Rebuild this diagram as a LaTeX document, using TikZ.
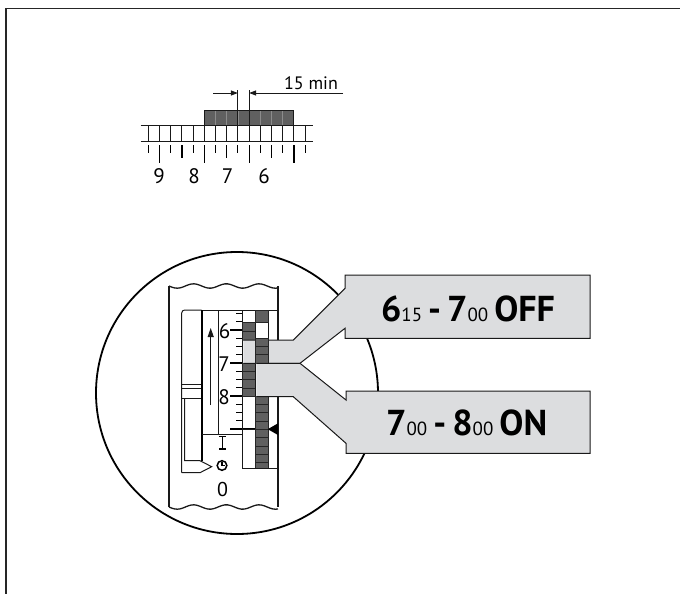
\documentclass[tikz,border=0pt]{standalone}
\usepackage{fontspec}
\setmainfont{PT Sans}
\usetikzlibrary{arrows.meta}
\definecolor{bandgray}{RGB}{220,221,223}
\definecolor{darkseg}{RGB}{96,96,96}
\newcommand\smalldig[1]{{\mdseries\fontsize{19}{21}\selectfont #1}}
\begin{document}
\begin{tikzpicture}[x=1pt,y=-1pt,line join=miter,
  thin line/.style={line width=1.0pt,draw=black!90},
  body line/.style={line width=1.3pt,draw=black!90},
  segment/.style={fill=darkseg,draw=black!85,line width=0.8pt},
  callout/.style={fill=bandgray},
  callout edge/.style={line width=1.0pt,draw=black!90},
  arrowtip/.style={-{Triangle[length=7pt,width=5pt]}},
  scalefont/.style={font=\fontsize{21}{24}\selectfont,inner sep=0pt},
  dialfont/.style={font=\fontsize{21}{24}\selectfont,inner sep=0pt},
  bigfont/.style={font=\bfseries\fontsize{36}{40}\selectfont,inner sep=0pt}]
\useasboundingbox (0,0) rectangle (680,594);
% frame
\draw[line width=1.4pt,draw=black!85] (6,594) -- (6,8.5) -- (680,8.5);

% ---------- top scale ----------
\fill[darkseg] (204.3,110) rectangle (293.9,125);
\foreach \i in {6,...,12}{
  \pgfmathsetmacro\xx{148.3+11.2*\i}
  \draw[line width=0.8pt,draw=black!45] (\xx,110) -- (\xx,125);
}
\draw[thin line] (204.3,125) -- (204.3,110) -- (293.9,110) -- (293.9,125);
\draw[thin line] (140.7,125) -- (312.7,125);
\draw[thin line] (140.7,141) -- (312.7,141);
\foreach \i in {0,...,14}{
  \pgfmathsetmacro\xx{148.3+11.2*\i}
  \draw[thin line] (\xx,125) -- (\xx,141);
  \pgfmathtruncatemacro\m{mod(\i,4)}
  \ifnum\m=1 \draw[line width=1.2pt] (\xx,145) -- (\xx,163);
  \else\ifnum\m=3 \draw[line width=1.2pt] (\xx,145) -- (\xx,158);
  \else \draw[line width=1.0pt] (\xx,145) -- (\xx,153);
  \fi\fi
}
\coordinate (ml) at (237.9,90);
\coordinate (mr) at (249.1,90);
\draw[thin line] (ml) -- (237.9,125);
\draw[thin line] (mr) -- (249.1,125);
\coordinate (al) at (213,93);
\coordinate (ar) at (343,93);
\draw[thin line,arrowtip] (al) -- (237.9,93);
\draw[thin line,arrowtip] (ar) -- (249.1,93);
\node[font=\fontsize{18}{20}\selectfont,inner sep=0pt,anchor=base] (min) at (311,89) {15 min};
\node[scalefont,anchor=base] (h9) at (159,183.5) {9};
\node[scalefont,anchor=base] (h8) at (194,183.5) {8};
\node[scalefont,anchor=base] (h7) at (227.5,183.5) {7};
\node[scalefont,anchor=base] (h6) at (264,183.5) {6};

% ---------- magnifier circle ----------
\draw[line width=1.8pt] (237,393) circle[radius=141];

% ---------- device body ----------
\draw[body line] plot[smooth,domain=169:278,samples=40] (\x,{286+2.2*sin(11*(\x-169))});
\draw[body line] plot[smooth,domain=169:278,samples=40] (\x,{507+2.2*sin(11*(\x-169))});
\draw[body line] (169,286) -- (169,507);
\draw[body line] (278,286) -- (278,507);

% switch slot
\draw[thin line,rounded corners=3pt] (201.7,310) -- (181.7,310) -- (181.7,472.7);
\draw[thin line] (181.7,472.7) -- (200,472.7) -- (211.7,466.7) -- (200,460.7) -- (184.5,460.7) -- (184.5,398);
\draw[thin line] (181.7,384) -- (201.7,384);
\draw[thin line] (181.7,388.3) -- (201.7,388.3);
\draw[thin line] (181.7,398) -- (201.7,398);

% number panel
\draw[thin line] (201.7,310) -- (278,310);
\draw[line width=2.2pt] (202.3,310) -- (202.3,460.7);
\draw[thin line] (202.3,434) -- (242.7,434);
\draw[thin line] (218.3,310) -- (218.3,434);
\draw[thin line] (242.7,310) -- (242.7,434);
\foreach \k in {0,...,14}{
  \pgfmathsetmacro\yy{313.5+8.25*\k}
  \pgfmathtruncatemacro\m{mod(\k,4)}
  \ifnum\m=2 \draw[line width=1.1pt] (230,\yy) -- (242.7,\yy);
  \else \draw[line width=1.0pt] (236,\yy) -- (242.7,\yy);
  \fi
}
\draw[line width=1.1pt] (230,429) -- (255.7,429);
\draw[thin line,-{Triangle[length=9pt,width=6pt]}] (210.7,405) -- (210.7,328);
\node[dialfont,anchor=center] (d6) at (224.5,331) {6};
\node[dialfont,anchor=center] (d7) at (224,364) {7};
\node[dialfont,anchor=center] (d8) at (224,397) {8};

% column A
\draw[thin line] (242.7,310) rectangle (255.7,429);
\draw[segment] (242.7,322.5) rectangle (255.7,331.2);
\draw[segment] (242.7,331.2) rectangle (255.7,340);
\foreach \a/\b in {363.3/371.5,371.5/379.8,379.8/388.2,388.2/396.7}{
  \draw[segment] (242.7,\a) rectangle (255.7,\b);
}
\draw[thin line] (242.7,429) rectangle (255.7,468.3);

% upper callout (OFF)
\fill[callout] (243.3,340) -- (293.3,340) -- (345,288.3) -- (345,275) -- (590,275) -- (590,338.3) -- (345,338.3) -- (345,328.3) -- (300,363.3) -- (243.3,363.3) -- cycle;
\draw[callout edge] (243.3,340) -- (293.3,340) -- (345,288.3) -- (345,275) -- (590,275) -- (590,338.3) -- (345,338.3) -- (345,328.3) -- (300,363.3) -- (243.3,363.3);

% column B
\draw[thin line] (255.7,310) rectangle (268,468.3);
\draw[segment] (255.7,310.5) rectangle (268,322.5);
\foreach \a/\b in {338.3/346.5,346.5/354.8,354.8/363.3,396.7/404.2,404.2/412.2,412.2/420.9,420.9/429.4,429.4/437.8,437.8/445.9,445.9/454,454/461.9,461.9/468.3}{
  \draw[segment] (255.7,\a) rectangle (268,\b);
}
\draw[thin line] (242.7,468.3) -- (278,468.3);

% lower callout (ON)
\fill[callout] (256.3,363.3) -- (300,363.3) -- (346,400) -- (346,391) -- (590,391) -- (590,453.3) -- (346,453.3) -- (346,443.3) -- (293.3,396.7) -- (256.3,396.7) -- cycle;
\draw[callout edge] (256.3,363.3) -- (300,363.3) -- (346,400) -- (346,391) -- (590,391) -- (590,453.3) -- (346,453.3) -- (346,443.3) -- (293.3,396.7) -- (256.3,396.7);

% pointer triangle
\fill[black] (267.8,429.2) -- (278,423.3) -- (278,435) -- cycle;

% I / clock / 0 symbols
\draw[line width=1.5pt] (219,436.5) -- (226,436.5);
\draw[line width=1.5pt] (222.5,436.5) -- (222.5,449);
\draw[line width=1.5pt] (219,449) -- (226,449);
\draw[line width=1.5pt] (222,465.5) circle[radius=4.8];
\draw[line width=1.2pt] (222,461.6) -- (222,465.5) -- (225.2,465.5);
\node[font=\fontsize{20}{22}\selectfont,inner sep=0pt] (zero) at (222.5,489) {0};

% callout texts
\node[bigfont,anchor=base] (offtext) at (468,321.7) {6\smalldig{15}\hspace{6pt}-\hspace{6pt}7\smalldig{00}\hspace{6pt}OFF};
\node[bigfont,anchor=base] (ontext) at (466.7,435) {7\smalldig{00}\hspace{6pt}-\hspace{6pt}8\smalldig{00}\hspace{6pt}ON};
\end{tikzpicture}
\end{document}
